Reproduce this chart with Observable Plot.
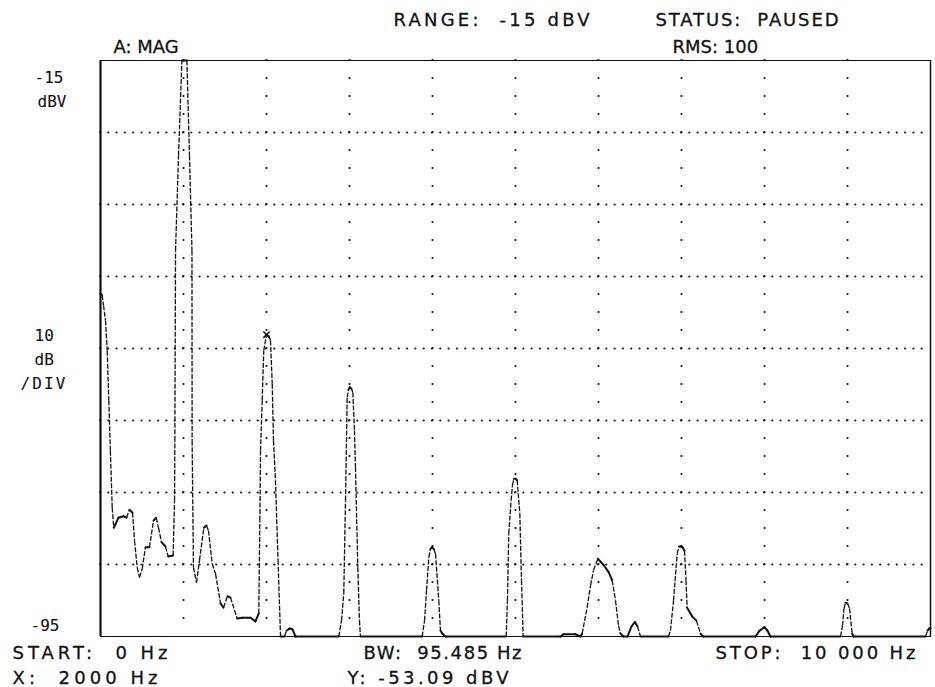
<!DOCTYPE html>
<html>
<head>
<meta charset="utf-8">
<script src="https://cdn.jsdelivr.net/npm/d3@7"></script>
<script src="https://cdn.jsdelivr.net/npm/@observablehq/plot@0.6"></script>
<style>
  html, body { margin: 0; padding: 0; background: #fff; }
  #chart svg text { white-space: pre; }
</style>
</head>
<body>
<div id="chart"></div>
<script>
// ---- data ----
const freqHz = [
  0, 20, 36, 60, 81, 100, 119, 141, 160, 181, 217, 277, 313, 349, 386, 410, 442, 470, 502, 542,
  590, 639, 671, 699, 735, 783, 816, 875, 892, 896, 904, 940, 981, 1000, 1041, 1072, 1102, 1104, 1120, 1157,
  1193, 1245, 1277, 1301, 1346, 1386, 1446, 1482, 1530, 1566, 1647, 1707, 1807, 1867, 1907, 1920, 1928, 1948, 1967, 2000,
  2030, 2048, 2069, 2084, 2108, 2139, 2169, 2217, 2241, 2277, 2313, 2349, 2871, 2904, 2931, 2952, 2972, 2988, 3003, 3024,
  3040, 3060, 3072, 3100, 3120, 3132, 3876, 3904, 3928, 3956, 3976, 3996, 4018, 4036, 4076, 4096, 4120, 4157, 4888, 4903,
  4919, 4947, 4963, 4980, 5000, 5020, 5052, 5072, 5080, 5092, 5542, 5578, 5723, 5783, 5803, 5863, 5904, 5940, 5992, 6024,
  6064, 6124, 6165, 6205, 6241, 6265, 6301, 6349, 6398, 6438, 6470, 6506, 6843, 6867, 6904, 6948, 6970, 6988, 7012, 7036,
  7054, 7068, 7128, 7180, 7229, 7261, 7892, 7940, 8000, 8036, 8072, 8916, 8940, 8958, 8976, 9000, 9024, 9056, 9072, 9940,
  9964, 9982, 10000
];
const levelDbV = [
  -47.4, -47.6, -49.0, -51.1, -55.3, -62.2, -69.2, -77.1, -79.9, -79.4, -78.5, -78.3, -78.5, -77.4, -77.8, -81.7, -85.4, -86.8, -85.6, -82.6,
  -82.6, -78.9, -78.5, -79.9, -81.9, -82.5, -83.9, -83.75, -76.1, -67.8, -41.4, -28.2, -15, -15, -15, -28.2, -41.4, -67.8, -85.4, -87.5,
  -84.4, -79.9, -79.6, -80.3, -84.9, -86.3, -90.4, -91.0, -89.4, -89.6, -92.5, -92.4, -92.4, -92.9, -91.8, -78.9, -69.2, -62.2, -55.3, -53.09,
  -53.3, -53.9, -59.9, -67.8, -73.3, -84.4, -95, -95, -94.2, -93.9, -94.0, -95, -95, -92.8, -89.0, -76.1, -61.8, -60.7, -60.4, -60.6,
  -61.1, -66.4, -71.5, -85.4, -92.8, -95, -95, -92.8, -88.6, -84.0, -82.8, -82.6, -82.9, -83.5, -90.0, -94.2, -94.6, -95, -95, -90.0,
  -80.7, -76.1, -74.0, -73.1, -73.1, -73.3, -77.9, -87.2, -90.0, -95, -95, -94.7, -94.7, -95, -94.6, -91.0, -87.9, -85.8, -84.2, -84.6,
  -85.1, -86.1, -87.2, -90.0, -93.5, -94.6, -95, -95, -93.6, -93.0, -93.6, -95, -95, -94.2, -90.0, -83.5, -82.5, -82.5, -82.6, -83.1,
  -87.2, -91.0, -92.2, -92.8, -94.6, -95, -95, -94.2, -93.7, -94.2, -95, -95, -93.5, -91.1, -90.3, -90.4, -91.1, -94.6, -95, -95,
  -94.2, -93.9, -93.9
];
const xGridHz = [1000, 2000, 3000, 4000, 5000, 6000, 7000, 8000, 9000];
const yGridDb = [-85, -75, -65, -55, -45, -35, -25];
const xDomain = [0, 10000];
const yDomain = [-95, -15];
const markerHz = [2000];
const markerDb = [-53.09];

// header / footer texts
const headerLabels = ["RANGE:  -15 dBV", "STATUS:  PAUSED", "A: MAG", "RMS: 100"];
const footerLabels = ["START:  0 Hz", "BW:  95.485 Hz", "STOP:  10 000 Hz", "X:  2000 Hz", "Y: -53.09 dBV"];
const axisLabels = ["-15", "dBV", "10", "dB", "/DIV", "-95"];

// ---- layout (absolute page pixels: left, baseline, width or null for natural) ----
const M = {left: 100, top: 60, right: 5, bottom: 51};
const headerPos = [[393, 25, 196], [655, 25, 183], [113, 52, null], [672, 52, null]];
const footerPos = [[12, 658, 155], [363, 658, 158], [715, 658, 200], [12, 683, 145], [347, 683, 161]];
const axisPos = [[34, 82, null], [37, 106, null], [34, 340, null], [34, 364, null], [20, 388, 45], [30, 630, null]];

const points = freqHz.map((f, i) => ({f, v: levelDbV[i]}));
const segs = d3.pairs(points).map(([a, b]) => ({
  x1: a.f, y1: a.v, x2: b.f, y2: b.v,
  steep: Math.abs(b.v - a.v) * 7.2 > 2.5 * Math.abs(b.f - a.f) * 0.083
}));
const marker = markerHz.map((f, i) => ({f, v: markerDb[i]}));

function textMark(label, pos, font, size, weightStroke) {
  return Plot.text([label], {
    text: d => d,
    frameAnchor: "top-left",
    dx: pos[0] - M.left,
    dy: pos[1] - M.top,
    textAnchor: "start",
    lineAnchor: "bottom",
    fontFamily: font,
    fontSize: size,
    fill: "#111",
    stroke: "#111",
    strokeWidth: weightStroke
  });
}

const mainFont = "DejaVu Sans";
const monoFont = "DejaVu Sans Mono";

const chart = Plot.plot({
  width: 935,
  height: 687,
  marginLeft: M.left,
  marginRight: M.right,
  marginTop: M.top,
  marginBottom: M.bottom,
  style: {background: "#fff", color: "#111"},
  x: {domain: xDomain, axis: null},
  y: {domain: yDomain, axis: null},
  marks: [
    Plot.ruleY(yGridDb, {stroke: "#111", strokeWidth: 2.2, strokeDasharray: "0,8.3", strokeLinecap: "round"}),
    Plot.ruleX(xGridHz, {stroke: "#111", strokeWidth: 2.2, strokeDasharray: "0,18", strokeLinecap: "round"}),
    Plot.frame({stroke: "#111", strokeWidth: 1}),
    Plot.ruleX([xDomain[0]], {stroke: "#111", strokeWidth: 2.2}),
    Plot.ruleX([xDomain[1]], {stroke: "#111", strokeWidth: 1.5}),
    Plot.link(segs.filter(d => !d.steep), {x1: "x1", y1: "y1", x2: "x2", y2: "y2", stroke: "#111", strokeWidth: 2, strokeLinecap: "round"}),
    Plot.link(segs.filter(d => d.steep), {x1: "x1", y1: "y1", x2: "x2", y2: "y2", stroke: "#111", strokeWidth: 1.3, strokeDasharray: "5,1.5"}),
    Plot.dot(marker, {x: "f", y: "v", symbol: "times", r: 3, stroke: "#111", strokeWidth: 1.6}),
    ...headerLabels.map((l, i) => textMark(l, headerPos[i], mainFont, 18, 0.3)),
    ...footerLabels.map((l, i) => textMark(l, footerPos[i], mainFont, 18, 0.3)),
    ...axisLabels.map((l, i) => textMark(l, axisPos[i], monoFont, 16, 0.1))
  ]
});

document.getElementById("chart").appendChild(chart);

// stretch labels to their measured widths on the reference
const allPos = [...headerPos, ...footerPos, ...axisPos];
d3.select(chart).selectAll("g[aria-label='text'] text").each(function(d, i) {
  if (allPos[i] && allPos[i][2]) {
    this.setAttribute("textLength", allPos[i][2]);
    this.setAttribute("lengthAdjust", "spacing");
  }
});
</script>
</body>
</html>
